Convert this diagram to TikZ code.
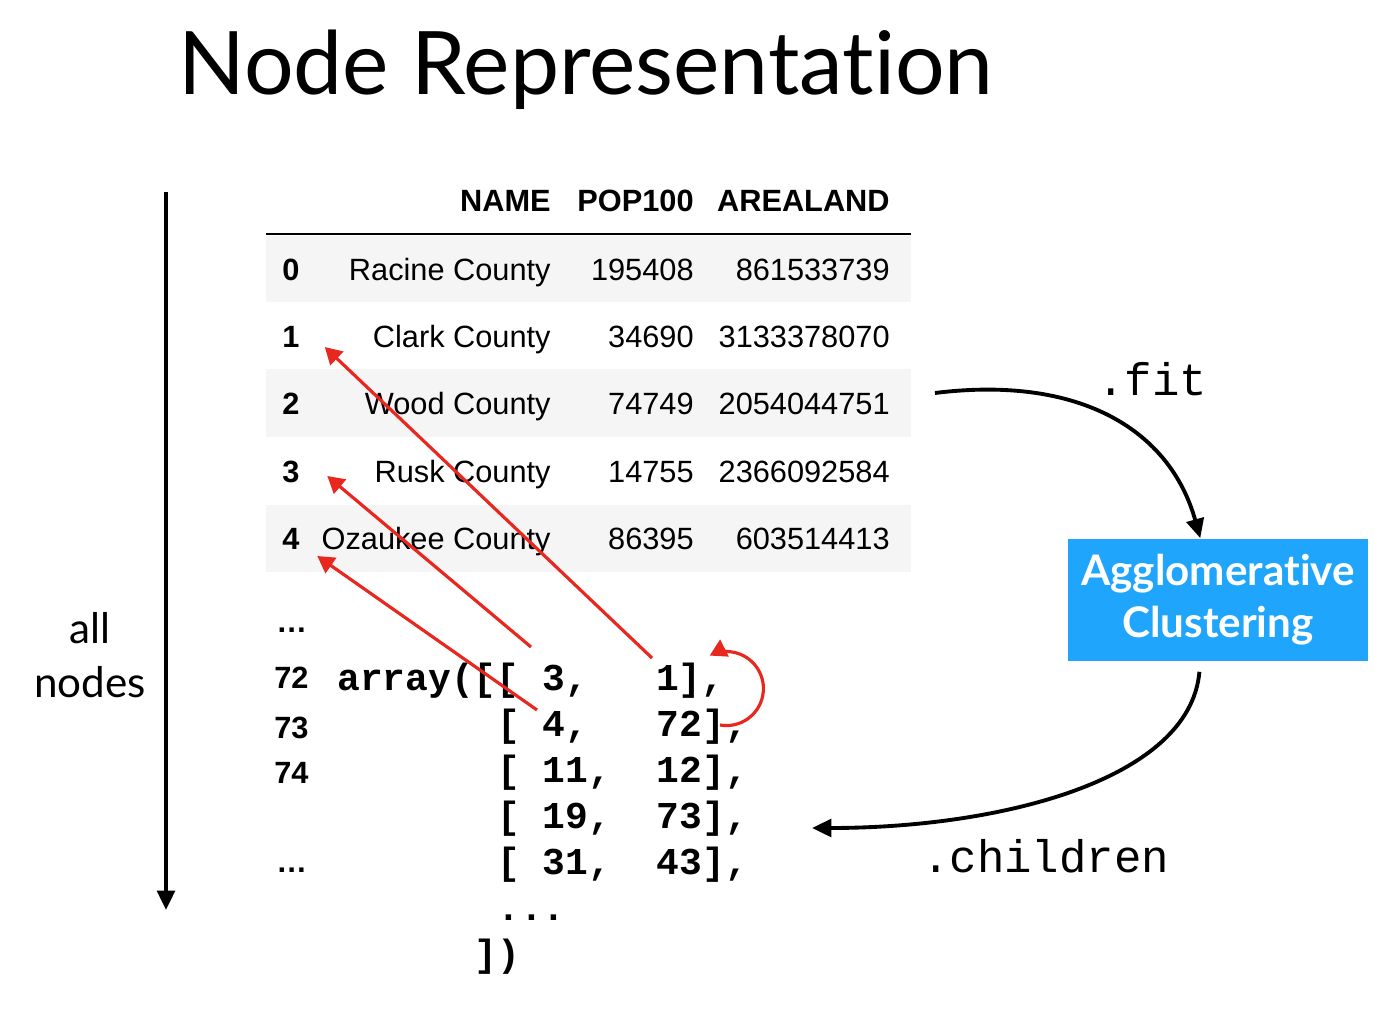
\documentclass[tikz,border=0pt]{standalone}
\usepackage{fontspec}
\setmainfont{Liberation Sans}
\newfontfamily\gill[Ligatures=NoCommon]{Lato}
\newfontfamily\code{Liberation Mono}
\usetikzlibrary{shapes,arrows.meta,positioning}
\definecolor{rowgray}{HTML}{F5F5F5}
\definecolor{pickred}{HTML}{E8271F}
\definecolor{skblue}{HTML}{1FA5FC}

\begin{document}
\begin{tikzpicture}[%
    x=0.02cm, y=-0.02cm,        % one unit is one pixel of the slide
    >={Triangle[length=9.5pt, width=10.5pt]}, % Filled arrow heads
    ]
% -------------------------------------------------
% Styles
\tikzset{
  cell/.style={inner sep=0pt, anchor=base east, font=\fontsize{17.5}{20}\selectfont},
  head/.style={cell, font=\fontsize{17.5}{20}\selectfont\bfseries},
  idx/.style={inner sep=0pt, anchor=base west, font=\fontsize{17.5}{20}\selectfont\bfseries},
  codeline/.style={inner sep=0pt, anchor=base west, font=\fontsize{21.6}{25}\selectfont\code\bfseries},
  method/.style={inner sep=0pt, anchor=base west, font=\fontsize{26}{30}\selectfont\code},
  pick/.style={->, draw=pickred, line width=1.8pt},
  call/.style={-{Triangle[length=11pt, width=10pt]}, draw, line width=2.2pt},
}
\useasboundingbox (0,0) rectangle (1396,1010);
% -------------------------------------------------
% Title and the axis on the left
\node [inner sep=0pt, anchor=base west, font=\gill\fontsize{49.9}{58}\selectfont]
  (title) at (178,95) {Node Representation};
\coordinate (axtop) at (166,192);
\coordinate (axbot) at (166,910);
\draw [call] (axtop) -- (axbot);
\node [align=center, font=\gill\fontsize{24}{31}\selectfont] (all) at (90,655) {all\\nodes};

% -------------------------------------------------
% The data frame
\fill [rowgray] (266,236) rectangle (911,302);
\fill [rowgray] (266,369) rectangle (911,437);
\fill [rowgray] (266,505) rectangle (911,572);
\draw [line width=1.1pt] (266,234) -- (911,234);

\node [head] (hname) at (551,212) {NAME};
\node [head] (hpop)  at (694,212) {POP100};
\node [head] (harea) at (890,212) {AREALAND};

\node [idx] (i0) at (282,280) {0};
\node [cell] (n0) at (551,280) {Racine County};
\node [cell] (p0) at (694,280) {195408};
\node [cell] (a0) at (890,280) {861533739};

\node [idx] (i1) at (282,347) {1};
\node [cell] (n1) at (551,347) {Clark County};
\node [cell] (p1) at (694,347) {34690};
\node [cell] (a1) at (890,347) {3133378070};

\node [idx] (i2) at (282,414) {2};
\node [cell] (n2) at (551,414) {Wood County};
\node [cell] (p2) at (694,414) {74749};
\node [cell] (a2) at (890,414) {2054044751};

\node [idx] (i3) at (282,482) {3};
\node [cell] (n3) at (551,482) {Rusk County};
\node [cell] (p3) at (694,482) {14755};
\node [cell] (a3) at (890,482) {2366092584};

\node [idx] (i4) at (282,549) {4};
\node [cell] (n4) at (551,549) {Ozaukee County};
\node [cell] (p4) at (694,549) {86395};
\node [cell] (a4) at (890,549) {603514413};

\node [idx] (more1) at (276,632) {…};
\node [idx] (i72) at (274,688) {72};
\node [idx] (i73) at (274,738) {73};
\node [idx] (i74) at (274,783) {74};
\node [idx] (more2) at (276,872) {…};

% -------------------------------------------------
% The children array
\node [codeline] (c1) at (337,690) {array([[~3,~~~1],};
\node [codeline] (c2) at (497,736) {[~4,~~~72],};
\node [codeline] (c3) at (497,782) {[~11,~~12],};
\node [codeline] (c4) at (497,828) {[~19,~~73],};
\node [codeline] (c5) at (497,874) {[~31,~~43],};
\node [codeline] (c6) at (497,920) {...};
\node [codeline] (c7) at (474,966) {])};

% -------------------------------------------------
% Model box and the two calls
\node [fill=skblue, text=white, align=center, minimum width=6cm, minimum height=2.46cm,
  font=\gill\bfseries\fontsize{24}{29.5}\selectfont] (agg) at (1218,600)
  {Agglomerative\\Clustering};

\coordinate (fitfrom) at (935,393);
\draw [call] (fitfrom) .. controls (1080,375) and (1170,430) .. (agg.106);
\node [method] (fit) at (1097,395) {.fit};

\coordinate (kidsto) at (812,828);
\draw [call, shorten <=5.7pt] (agg.-106) .. controls (1190,780) and (1000,828) .. (kidsto);
\node [method] (kids) at (922,872) {.children};

% -------------------------------------------------
% Red pointers from the array back to the rows
\coordinate (from1) at (652,658);
\coordinate (from3) at (531,647);
\coordinate (from4) at (537,710);
\draw [pick] (from1) -- ([xshift=0.5cm]i1.base east);
\draw [pick] (from3) -- ([xshift=0.55cm, yshift=0.12cm]i3.base east);
\draw [pick] (from4) -- ([xshift=0.35cm, yshift=-0.14cm]i4.base east);
\draw [pick] (720,725) arc[start angle=100, end angle=-117, radius=37];

% -------------------------------------------------
\end{tikzpicture}
\end{document}
